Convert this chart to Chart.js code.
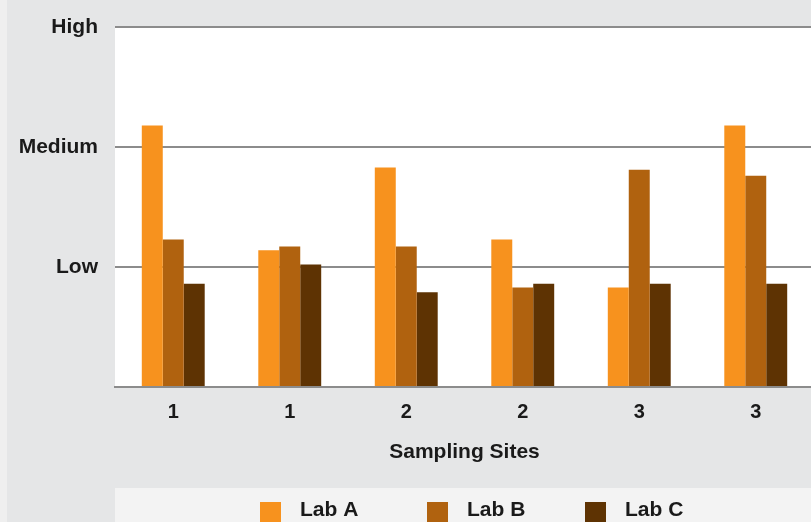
<!DOCTYPE html>
<html>
<head>
<meta charset="utf-8">
<script src="https://cdn.jsdelivr.net/npm/chart.js@4"></script>
<style>
  html, body { margin: 0; padding: 0; overflow: hidden; background: #e5e6e7; }
  canvas { display: block; }
</style>
</head>
<body>
<canvas id="myChart" width="816" height="522"></canvas>
<script>
// values (0 = baseline, 1 = Low, 2 = Medium, 3 = High)
const sites = ['1', '1', '2', '2', '3', '3'];
const labA = [2.18, 1.14, 1.83, 1.23, 0.83, 2.18];
const labB = [1.23, 1.17, 1.17, 0.83, 1.81, 1.76];
const labC = [0.86, 1.02, 0.79, 0.86, 0.86, 0.86];
const levelLabels = ['', 'Low', 'Medium', 'High'];
const seriesNames = ['Lab A', 'Lab B', 'Lab C'];
const seriesColors = ['#f7921e', '#b0620f', '#5e3303'];

const textColor = '#1a1a1a';
const gridColor = '#8c8c8c';

// background panels: gray page, white plot, pale legend band
const backdrop = {
  id: 'backdrop',
  beforeDraw(chart) {
    const { ctx, chartArea } = chart;
    ctx.save();
    ctx.fillStyle = '#e5e6e7';
    ctx.fillRect(0, 0, chart.width, chart.height);
    ctx.fillStyle = '#efefef';
    ctx.fillRect(0, 0, 7, chart.height);
    ctx.fillStyle = '#ffffff';
    ctx.fillRect(chartArea.left, chartArea.top, chartArea.right - chartArea.left, chartArea.bottom - chartArea.top);
    ctx.fillStyle = '#f3f3f3';
    ctx.fillRect(chartArea.left, 488, chart.width - chartArea.left, chart.height - 488);
    ctx.restore();
  }
};

// legend drawn in the bottom band
const bandLegend = {
  id: 'bandLegend',
  afterDraw(chart) {
    const { ctx } = chart;
    const xs = [260, 427, 585];
    ctx.save();
    ctx.font = 'bold 21px "Liberation Sans", Arial, sans-serif';
    ctx.textBaseline = 'alphabetic';
    chart.data.datasets.forEach((ds, i) => {
      ctx.fillStyle = ds.backgroundColor;
      ctx.fillRect(xs[i], 502, 21, 21);
      ctx.fillStyle = textColor;
      ctx.fillText(ds.label, xs[i] + 40, 516);
    });
    ctx.restore();
  }
};

const ctx = document.getElementById('myChart');
let myChart = new Chart(ctx, {
  type: 'bar',
  data: {
    labels: sites,
    datasets: [labA, labB, labC].map((values, i) => ({
      label: seriesNames[i],
      data: values,
      backgroundColor: seriesColors[i],
      borderWidth: 0,
      categoryPercentage: 0.54,
      barPercentage: 1.0
    }))
  },
  options: {
    responsive: false,
    animation: false,
    layout: { padding: { top: 27, right: 2, bottom: 0, left: 0 } },
    plugins: {
      legend: { display: false },
      tooltip: { enabled: false }
    },
    scales: {
      x: {
        grid: { display: false, drawTicks: false },
        border: { display: true, color: gridColor, width: 2 },
        ticks: {
          color: textColor,
          padding: 13,
          font: { family: '"Liberation Sans", Arial, sans-serif', size: 20, weight: 'bold' }
        },
        title: {
          display: true,
          text: 'Sampling Sites',
          color: textColor,
          font: { family: '"Liberation Sans", Arial, sans-serif', size: 21, weight: 'bold' },
          padding: { top: 0, bottom: 57 }
        },
        afterFit: (scale) => { scale.height = 135; }
      },
      y: {
        min: 0,
        max: 3,
        grid: { color: gridColor, lineWidth: 2, drawTicks: false },
        border: { display: false },
        ticks: {
          stepSize: 1,
          color: textColor,
          padding: 17,
          font: { family: '"Liberation Sans", Arial, sans-serif', size: 21, weight: 'bold' },
          callback: (value) => levelLabels[value]
        },
        afterFit: (scale) => {
          scale.width = 115;
          scale.paddingTop = 0;
          scale.paddingBottom = 0;
        }
      }
    }
  },
  plugins: [backdrop, bandLegend]
});
</script>
</body>
</html>
